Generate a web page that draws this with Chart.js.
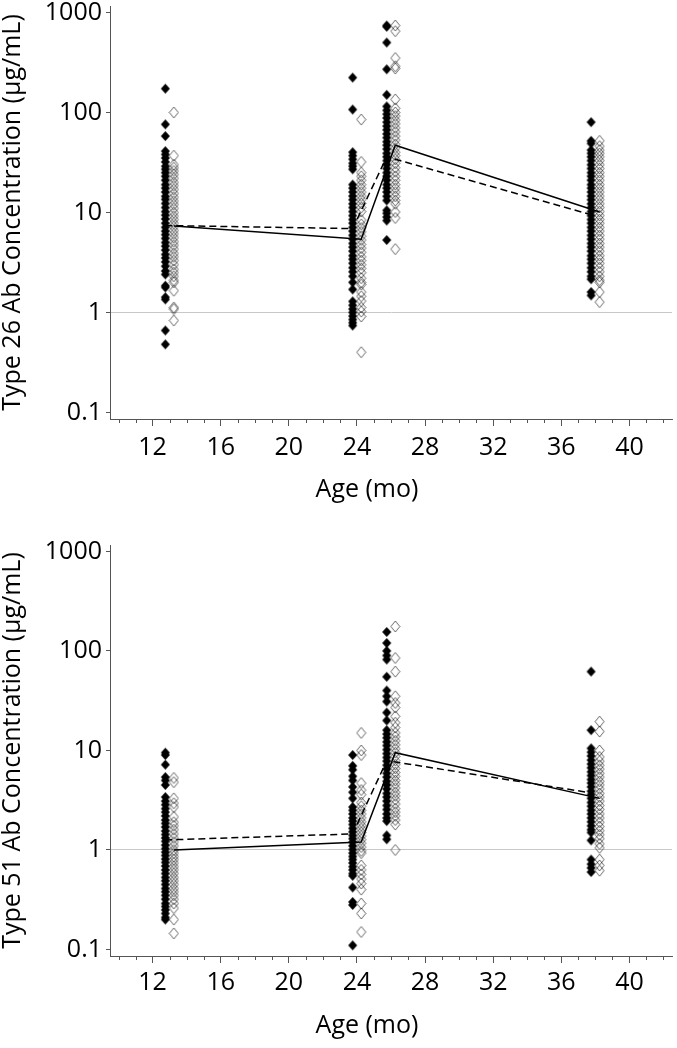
<!DOCTYPE html>
<html>
<head>
<meta charset="utf-8">
<script src="https://cdn.jsdelivr.net/npm/chart.js@4.4.1/dist/chart.umd.min.js"></script>
<style>
    html, body { margin: 0; padding: 0; background: #fff; }
    #wrap { position: relative; width: 677px; height: 1048px; }
    canvas { position: absolute; left: 0; }
    #chart26 { top: 0; }
    #chart51 { top: 520px; }
</style>
</head>
<body>
<div id="wrap">
    <canvas id="chart26" width="677" height="520"></canvas>
    <canvas id="chart51" width="677" height="528"></canvas>
</div>
<script>
// Ages (months) of each visit, with the two groups drawn side by side
const filledAges = [12.75, 23.75, 25.75, 37.75];
const openAges = [13.25, 24.25, 26.25, 38.25];

const xTicks = [12, 16, 20, 24, 28, 32, 36, 40];
const yTicks = [0.1, 1, 10, 100, 1000];
const yTickLabels = ['0.1', '1', '10', '100', '1000'];
const xTitle = 'Age (mo)';

// Type 26 - filled diamonds (group 1)
const t26Filled13 = [173, 76, 58, 41, 38, 35, 32, 29, 27, 25, 23, 21, 19, 17.5, 16, 14.5, 13.5, 12.3, 11.2, 10.2, 9.4, 8.6, 7.8, 7.1, 6.5, 6.0, 5.5, 5.0, 4.6, 4.2, 3.8, 3.5, 3.2, 2.9, 2.6, 2.4, 1.85, 1.78, 1.42, 1.35, 0.66, 0.48];
const t26Filled24 = [223, 107, 40, 37, 34, 31, 29, 27, 19, 17.5, 16, 14.6, 13.4, 12.2, 11.2, 10.2, 9.3, 8.5, 7.8, 7.1, 6.5, 5.9, 5.4, 4.9, 4.5, 4.1, 3.7, 3.4, 3.1, 2.8, 2.55, 2.3, 2.0, 1.7, 1.29, 1.18, 1.08, 1.0, 0.92, 0.85, 0.79, 0.74];
const t26Filled26 = [740, 720, 500, 270, 150, 115, 105, 96, 88, 80, 73, 67, 61, 56, 51, 47, 43, 39, 36, 33, 30, 27.5, 25, 23, 21, 19, 17.5, 16, 14.5, 13.2, 10.5, 9.8, 9.0, 8.3, 5.3];
const t26Filled38 = [80, 52, 49, 42, 39, 36, 33, 30, 27.5, 25, 23, 21, 19, 17.5, 16, 14.6, 13.4, 12.2, 11.2, 10.2, 9.3, 8.5, 7.8, 7.1, 6.5, 5.9, 5.4, 4.9, 4.5, 4.1, 3.7, 3.4, 3.1, 2.8, 2.55, 2.3, 2.15, 1.6, 1.48];
// Type 26 - open diamonds (group 2)
const t26Open13 = [100, 37, 30, 28, 26, 24, 22, 20, 18.5, 17, 15.5, 14.2, 13, 12, 11, 10, 9.2, 8.5, 7.8, 7.2, 6.6, 6.1, 5.6, 5.1, 4.7, 4.3, 3.9, 3.6, 3.3, 3.0, 2.7, 2.5, 2.3, 2.1, 2.0, 1.65, 1.12, 1.08, 0.83];
const t26Open24 = [85, 32, 25, 23, 21, 19, 17.5, 16, 14.6, 13.4, 12.3, 11.2, 10.2, 8.4, 7.6, 7.0, 6.4, 5.8, 5.3, 4.8, 4.4, 4.0, 3.6, 3.3, 3.0, 2.75, 2.5, 2.2, 2.0, 1.9, 1.6, 1.45, 1.3, 1.12, 1.02, 0.91, 0.40];
const t26Open26 = [740, 650, 350, 290, 275, 135, 110, 100, 92, 84, 77, 70, 64, 58, 53, 48, 44, 40, 37, 34, 31, 28, 25.5, 23, 21, 19, 17.5, 16, 14.5, 13.2, 12.2, 10.1, 8.8, 4.3];
const t26Open38 = [52, 46, 42, 39, 36, 33, 30, 27.5, 25, 23, 21, 19, 17.5, 16, 14.6, 13.4, 12.2, 11.2, 10.2, 9.3, 8.5, 7.8, 7.1, 6.5, 5.9, 5.4, 4.9, 4.5, 4.1, 3.7, 3.4, 3.1, 2.8, 2.55, 2.3, 2.1, 2.0, 1.6, 1.27];
// Type 26 - geometric means
const t26FilledMeans = [7.4, 6.9, 36, 9.5];
const t26OpenMeans = [7.3, 5.4, 47, 10.1];

// Type 51 - filled diamonds (group 1)
const t51Filled13 = [9.5, 9.0, 7.2, 5.4, 5.0, 4.5, 3.4, 3.1, 2.85, 2.6, 2.4, 2.2, 2.0, 1.85, 1.7, 1.55, 1.43, 1.32, 1.22, 1.12, 1.03, 0.95, 0.88, 0.81, 0.75, 0.69, 0.63, 0.58, 0.53, 0.49, 0.45, 0.41, 0.38, 0.35, 0.32, 0.29, 0.27, 0.25, 0.23, 0.21, 0.2];
const t51Filled24 = [9.0, 7.0, 6.4, 5.5, 5.0, 4.3, 3.8, 3.3, 2.7, 2.5, 2.3, 2.1, 1.95, 1.8, 1.65, 1.52, 1.4, 1.3, 1.2, 1.1, 1.01, 0.93, 0.86, 0.8, 0.74, 0.68, 0.63, 0.58, 0.55, 0.42, 0.3, 0.28, 0.11];
const t51Filled26 = [155, 120, 100, 90, 82, 55, 40, 35, 31, 24, 20, 16, 14.6, 13.4, 12.2, 11.2, 10.2, 9.3, 8.5, 7.8, 7.1, 6.5, 5.9, 5.4, 4.9, 4.5, 4.1, 3.7, 3.4, 3.1, 2.8, 2.55, 2.3, 2.1, 1.95, 1.4, 1.28];
const t51Filled38 = [62, 16, 10.5, 9.6, 8.8, 8.0, 7.3, 6.7, 6.1, 5.6, 5.1, 4.7, 4.3, 3.9, 3.6, 3.3, 3.0, 2.75, 2.5, 2.3, 2.1, 1.92, 1.75, 1.6, 1.5, 1.25, 0.8, 0.72, 0.66, 0.6];
// Type 51 - open diamonds (group 2)
const t51Open13 = [5.3, 4.8, 3.3, 2.95, 2.7, 2.15, 1.9, 1.75, 1.6, 1.45, 1.32, 1.2, 1.1, 1.0, 0.93, 0.86, 0.8, 0.74, 0.68, 0.63, 0.58, 0.53, 0.49, 0.45, 0.41, 0.38, 0.35, 0.32, 0.29, 0.26, 0.2, 0.145];
const t51Open24 = [15, 10, 9, 4.7, 4.0, 3.6, 3.0, 2.75, 2.5, 2.3, 2.1, 1.92, 1.77, 1.63, 1.5, 1.38, 1.27, 1.17, 1.07, 0.98, 0.93, 0.7, 0.63, 0.57, 0.51, 0.46, 0.4, 0.29, 0.23, 0.15];
const t51Open26 = [176, 85, 62, 35, 30, 27, 22, 19, 17, 15, 13.7, 12.5, 11.4, 10.4, 9.5, 8.7, 7.9, 7.2, 6.6, 6.0, 5.5, 5.0, 4.6, 4.2, 3.8, 3.5, 3.2, 2.9, 2.6, 2.4, 2.2, 2.0, 1.8, 1.0];
const t51Open38 = [19.5, 15.5, 10, 8.6, 7.8, 7.1, 6.5, 5.9, 5.4, 4.9, 4.5, 4.1, 3.7, 3.4, 3.1, 2.8, 2.55, 2.3, 2.1, 1.9, 1.72, 1.56, 1.42, 1.3, 1.15, 1.05, 0.8, 0.7, 0.62];
// Type 51 - geometric means
const t51FilledMeans = [1.26, 1.45, 7.9, 3.75];
const t51OpenMeans = [1.0, 1.2, 9.5, 3.3];

Chart.defaults.font.family = "'Open Sans', sans-serif";
Chart.defaults.color = '#000';

// Diamond markers drawn once on small canvases
function makeDiamond(w, h, filled) {
    const c = document.createElement('canvas');
    c.width = w + 2;
    c.height = h + 2;
    const g = c.getContext('2d');
    g.beginPath();
    g.moveTo(c.width / 2, 1);
    g.lineTo(c.width - 1, c.height / 2);
    g.lineTo(c.width / 2, c.height - 1);
    g.lineTo(1, c.height / 2);
    g.closePath();
    if (filled) {
        g.fillStyle = '#000';
        g.fill();
    } else {
        g.strokeStyle = 'rgba(0, 0, 0, 0.6)';
        g.lineWidth = 1;
        g.stroke();
    }
    return c;
}
const filledMarker = makeDiamond(9, 10, true);
const openMarker = makeDiamond(9, 11, false);

function columns(ages, lists) {
    const pts = [];
    lists.forEach((vals, i) => vals.forEach(v => pts.push({ x: ages[i], y: v })));
    return pts;
}

function meanLine(ages, means) {
    return means.map((v, i) => ({ x: ages[i], y: v }));
}

// Minor x ticks and the x axis title
const axisExtras = {
    id: 'axisExtras',
    afterDraw(chart, args, opts) {
        const { ctx } = chart;
        const x = chart.scales.x;
        ctx.save();
        ctx.strokeStyle = '#555';
        ctx.lineWidth = 1;
        ctx.beginPath();
        for (let v = Math.ceil(x.min); v <= Math.floor(x.max); v++) {
            if (xTicks.includes(v)) continue;
            const px = Math.round(x.getPixelForValue(v)) + 0.5;
            ctx.moveTo(px, x.top);
            ctx.lineTo(px, x.top + 4);
        }
        ctx.stroke();
        ctx.fillStyle = '#000';
        ctx.font = "25px 'Open Sans', sans-serif";
        ctx.textAlign = 'center';
        ctx.textBaseline = 'middle';
        ctx.fillText(xTitle, opts.titleX, x.top + opts.titleOffset);
        ctx.restore();
    }
};

function buildChart(canvasId, yTitle, filledLists, openLists, filledMeans, openMeans, pad) {
    return new Chart(document.getElementById(canvasId), {
        type: 'scatter',
        data: {
            datasets: [
                {
                    type: 'line',
                    data: meanLine(openAges, openMeans),
                    borderColor: '#000',
                    borderWidth: 1.5,
                    pointRadius: 0,
                    fill: false,
                    order: 0
                },
                {
                    type: 'line',
                    data: meanLine(filledAges, filledMeans),
                    borderColor: '#000',
                    borderWidth: 1.5,
                    borderDash: [7, 4],
                    pointRadius: 0,
                    fill: false,
                    order: 0
                },
                {
                    data: columns(openAges, openLists),
                    pointStyle: openMarker,
                    order: 1
                },
                {
                    data: columns(filledAges, filledLists),
                    pointStyle: filledMarker,
                    order: 2
                }
            ]
        },
        options: {
            responsive: false,
            animation: false,
            layout: { padding: { top: pad.top, right: 2, bottom: 0, left: 0 } },
            plugins: {
                legend: { display: false },
                tooltip: { enabled: false },
                axisExtras: { titleX: 367, titleOffset: pad.titleOffset }
            },
            scales: {
                x: {
                    type: 'linear',
                    min: 9.5,
                    max: 42.5,
                    afterBuildTicks: s => { s.ticks = xTicks.map(v => ({ value: v })); },
                    afterFit: s => {
                        s.height = pad.xHeight;
                        s.paddingLeft = 0;
                        s.paddingRight = 0;
                    },
                    ticks: { font: { size: 25 }, color: '#000', padding: pad.tickPad, maxRotation: 0, autoSkip: false },
                    grid: { drawOnChartArea: false, tickLength: 7, tickColor: '#555' },
                    border: { color: '#555' }
                },
                y: {
                    type: 'logarithmic',
                    min: 0.086,
                    max: 1160,
                    afterBuildTicks: s => { s.ticks = yTicks.map(v => ({ value: v })); },
                    afterFit: s => {
                        s.width = 110;
                        s.paddingTop = 0;
                        s.paddingBottom = 0;
                    },
                    ticks: {
                        font: { size: 25 },
                        color: '#000',
                        padding: 4,
                        callback: (v, i) => yTickLabels[i]
                    },
                    grid: {
                        color: c => (c.tick && c.tick.value === 1 ? '#c8c8c8' : 'rgba(0,0,0,0)'),
                        tickColor: '#555',
                        tickLength: 4
                    },
                    border: { color: '#555' },
                    title: {
                        display: true,
                        text: yTitle,
                        font: { size: 25 },
                        color: '#000',
                        padding: { top: -2, bottom: 0 }
                    }
                }
            }
        },
        plugins: [axisExtras]
    });
}

buildChart('chart26', 'Type 26 Ab Concentration (µg/mL)',
    [t26Filled13, t26Filled24, t26Filled26, t26Filled38],
    [t26Open13, t26Open24, t26Open26, t26Open38],
    t26FilledMeans, t26OpenMeans, { top: 6, xHeight: 101, tickPad: 7, titleOffset: 71 });

buildChart('chart51', 'Type 51 Ab Concentration (µg/mL)',
    [t51Filled13, t51Filled24, t51Filled26, t51Filled38],
    [t51Open13, t51Open24, t51Open26, t51Open38],
    t51FilledMeans, t51OpenMeans, { top: 25, xHeight: 92, tickPad: 5, titleOffset: 70 });
</script>
</body>
</html>
